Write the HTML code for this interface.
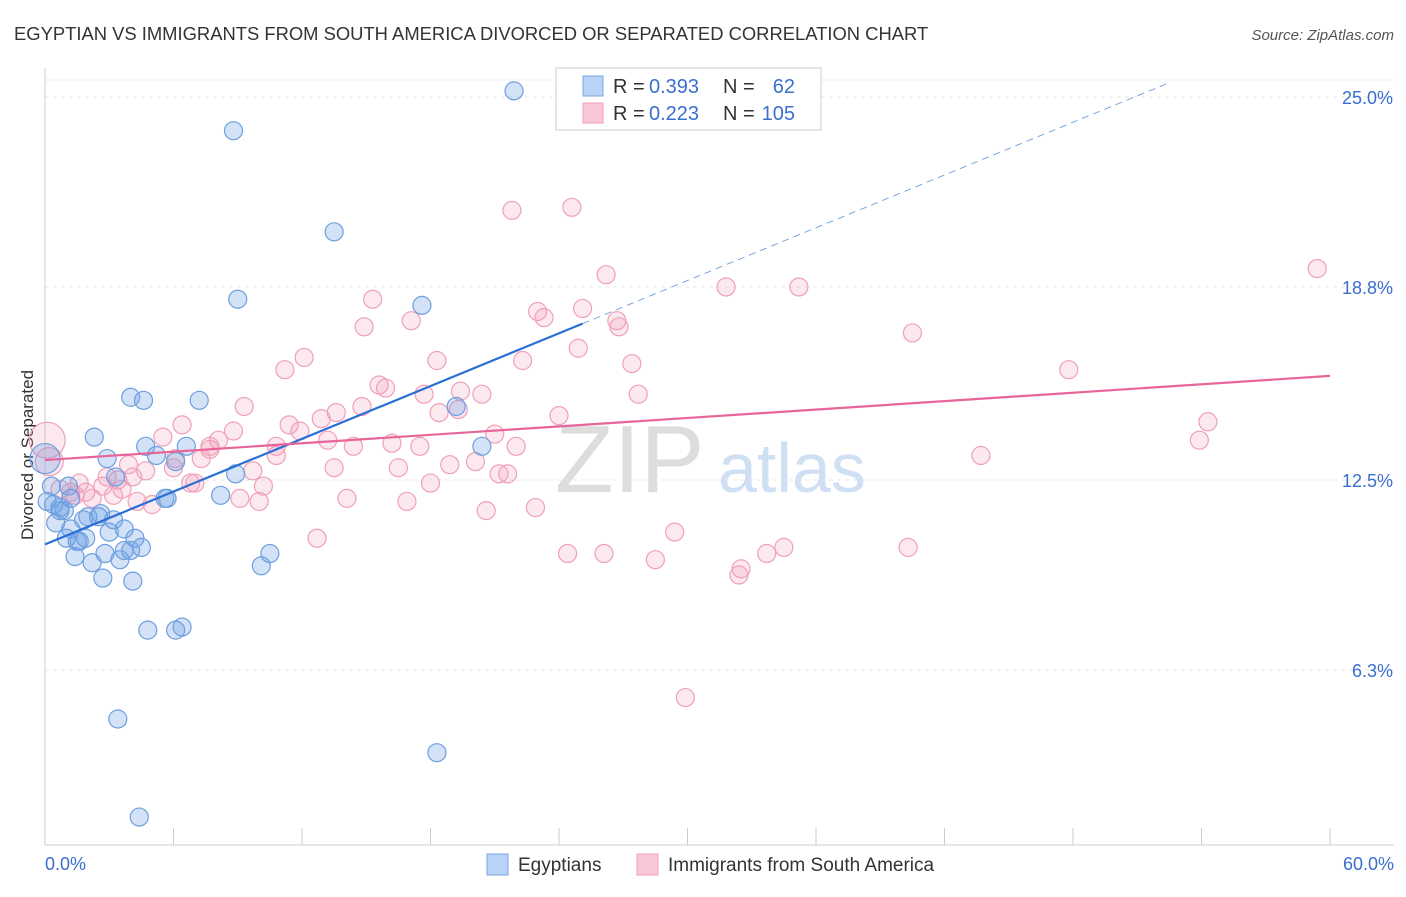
<!DOCTYPE html>
<html><head><meta charset="utf-8"><style>
body{margin:0;background:#fff;font-family:"Liberation Sans",sans-serif;}
svg text{font-family:"Liberation Sans",sans-serif;}
</style></head><body>
<svg id="c" width="1406" height="892">
<text x="14" y="40" font-size="18.4" fill="#333">EGYPTIAN VS IMMIGRANTS FROM SOUTH AMERICA DIVORCED OR SEPARATED CORRELATION CHART</text>
<text x="1394" y="40" font-size="15" fill="#555" font-style="italic" text-anchor="end">Source: ZipAtlas.com</text>
<text transform="translate(33,455) rotate(-90)" font-size="17" fill="#333" text-anchor="middle">Divorced or Separated</text>
<text x="555" y="492" font-size="96" fill="#ddd" font-family="Liberation Serif">ZIP</text>
<text x="718" y="492" font-size="70" fill="#cfe0f4">atlas</text>
<g id="grid"></g><g id="marks"></g>
<g>
<rect x="556" y="68" width="265" height="62" fill="#fff" stroke="#ccc"/>
<rect x="583" y="76" width="20" height="20" fill="#b8d3f5" stroke="#7aa6e0"/>
<rect x="583" y="103" width="20" height="20" fill="#f9c7d6" stroke="#f0a0b8"/>
<text x="613" y="93" font-size="20" fill="#333">R =</text>
<text x="649" y="93" font-size="20" fill="#3a6fd0">0.393</text>
<text x="723" y="93" font-size="20" fill="#333">N =</text>
<text x="795" y="93" font-size="20" fill="#3a6fd0" text-anchor="end">62</text>
<text x="613" y="120" font-size="20" fill="#333">R =</text>
<text x="649" y="120" font-size="20" fill="#3a6fd0">0.223</text>
<text x="723" y="120" font-size="20" fill="#333">N =</text>
<text x="795" y="120" font-size="20" fill="#3a6fd0" text-anchor="end">105</text>
</g>
<g>
<rect x="487" y="854" width="21" height="21" fill="#b8d3f5" stroke="#7aa6e0"/>
<text x="518" y="871" font-size="19" fill="#333">Egyptians</text>
<rect x="637" y="854" width="21" height="21" fill="#f9c7d6" stroke="#f0a0b8"/>
<text x="668" y="871" font-size="19" fill="#333">Immigrants from South America</text>
</g>
</svg>
<script>
const yTicks=[25.0,18.8,12.5,6.3];
const yTickLabels=["25.0%","18.8%","12.5%","6.3%"];
const xTickLabels=["0.0%","60.0%"];
const blueX=[21.9,8.8,13.5,9.0,17.6,4.0,4.6,7.2,19.2,2.3,4.7,6.6,5.2,2.9,6.1,20.4,8.9,3.3,0.3,1.1,1.2,5.6,8.2,5.7,0.4,0.7,0.9,2.0,2.6,1.8,2.5,3.2,0.5,1.2,1.0,3.7,3.0,1.6,1.9,1.5,4.2,4.5,2.8,3.7,4.0,3.5,1.4,2.2,10.5,10.1,2.7,4.1,4.8,6.1,6.4,3.4,18.3,4.4,0,0.1,0.7];
const blueY=[25.2,23.9,20.6,18.4,18.2,15.2,15.1,15.1,14.9,13.9,13.6,13.6,13.3,13.2,13.1,13.6,12.7,12.6,12.3,12.3,11.9,11.9,12.0,11.9,11.7,11.6,11.5,11.3,11.4,11.2,11.3,11.2,11.1,10.9,10.6,10.9,10.8,10.5,10.6,10.5,10.6,10.3,10.1,10.2,10.2,9.9,10.0,9.8,10.1,9.7,9.3,9.2,7.6,7.6,7.7,4.7,3.6,1.5,13.2,11.8,11.5];
const pinkX=[21.8,24.6,59.4,26.2,31.8,35.2,15.3,23.0,25.1,17.1,14.9,23.3,26.7,26.8,40.5,24.9,12.1,18.3,22.3,27.4,47.8,11.2,15.6,15.9,17.7,19.4,20.4,27.7,9.3,14.8,13.6,19.3,18.4,24.0,54.3,6.4,11.4,12.9,8.8,21.0,5.5,8.1,7.7,10.8,13.2,11.9,53.9,16.2,17.5,22.0,14.4,7.7,10.8,43.7,7.3,6.1,3.9,6.0,9.7,13.5,16.5,18.9,20.1,21.6,21.2,4.7,2.9,3.4,4.1,1.6,1.9,2.7,6.8,7.0,10.2,0.7,1.2,1.4,3.2,3.6,18.0,2.2,4.3,9.1,10.0,14.1,16.9,5.0,20.6,22.9,12.7,29.4,24.4,26.1,28.5,34.5,33.7,32.5,32.4,40.3,29.9,0.1,0.2];
const pinkY=[21.3,21.4,19.4,19.2,18.8,18.8,18.4,18.0,18.1,17.7,17.5,17.8,17.7,17.5,17.3,16.8,16.5,16.4,16.4,16.3,16.1,16.1,15.6,15.5,15.3,15.4,15.3,15.3,14.9,14.9,14.7,14.8,14.7,14.6,14.4,14.3,14.3,14.5,14.1,14.0,13.9,13.8,13.6,13.6,13.8,14.1,13.8,13.7,13.6,13.6,13.6,13.5,13.3,13.3,13.2,13.2,13.0,12.9,12.8,12.9,12.9,13.0,13.1,12.7,12.7,12.8,12.6,12.5,12.6,12.4,12.1,12.3,12.4,12.4,12.3,12.2,12.1,12.0,12.0,12.2,12.4,11.9,11.8,11.9,11.8,11.9,11.8,11.7,11.5,11.6,10.6,10.8,10.1,10.1,9.9,10.3,10.1,9.6,9.4,10.3,5.4,13.8,13.1];
const blueTrend=[10.4,0.287];
const pinkTrend=[13.15,0.0458];
const sx=v=>45+v*21.417, sy=v=>863-v*30.64;
const NS="http://www.w3.org/2000/svg";
const mk=(t,a,p)=>{const e=document.createElementNS(NS,t);for(const k in a)e.setAttribute(k,a[k]);p.appendChild(e);return e;};
const g=document.getElementById('grid'), m=document.getElementById('marks');
let e=mk('line',{x1:45,y1:80,x2:1394,y2:80,stroke:'#e4e4e4','stroke-dasharray':'4,4'},g);

yTicks.forEach((v,i)=>{
 let l=mk('line',{x1:45,y1:sy(v),x2:1394,y2:sy(v),stroke:'#e4e4e4','stroke-dasharray':'4,4'},g);
 
 let t=mk('text',{x:1393,y:sy(v)+7,'font-size':18,fill:'#3a6fd0','text-anchor':'end'},g);t.textContent=yTickLabels[i];
 
});
e=mk('line',{x1:45,y1:68,x2:45,y2:845,stroke:'#ccc'},g);
e=mk('line',{x1:45,y1:845,x2:1394,y2:845,stroke:'#ccc'},g);
for(let i=1;i<=10;i++){let l=mk('line',{x1:sx(i*6),y1:828,x2:sx(i*6),y2:845,stroke:'#ccc'},g);}
[[0,'start',45],[60,'end',1394]].forEach((d,i)=>{let t=mk('text',{x:d[2],y:870,'font-size':18,fill:'#3a6fd0','text-anchor':d[1]},g);t.textContent=xTickLabels[i];});
function pts(X,Y,fill,stroke,name){X.forEach((x,i)=>{const big=(x<0.3&&name!=='egyptian-point')?(i===X.length-2?18:14):(x===0?15:9);
 const c=mk('circle',{cx:sx(x),cy:sy(Y[i]),r:big,fill:fill,stroke:stroke,'stroke-width':1.2},m);
 });}
pts(pinkX,pinkY,'rgba(242,150,180,0.22)','#f0a0b8','immigrant-point');
pts(blueX,blueY,'rgba(110,160,230,0.3)','#6d9fe0','egyptian-point');
e=mk('line',{x1:sx(0),y1:sy(blueTrend[0]),x2:sx(25.1),y2:sy(blueTrend[0]+blueTrend[1]*25.1),stroke:'#2a6fd6','stroke-width':2.2},m);

e=mk('line',{x1:sx(25.1),y1:sy(blueTrend[0]+blueTrend[1]*25.1),x2:sx(52.5),y2:sy(blueTrend[0]+blueTrend[1]*52.5),stroke:'#7aa6e0','stroke-width':1,'stroke-dasharray':'7,5'},m);

e=mk('line',{x1:sx(0),y1:sy(pinkTrend[0]),x2:sx(60),y2:sy(pinkTrend[0]+pinkTrend[1]*60),stroke:'#e8659a','stroke-width':2.2},m);

</script>
</body></html>
